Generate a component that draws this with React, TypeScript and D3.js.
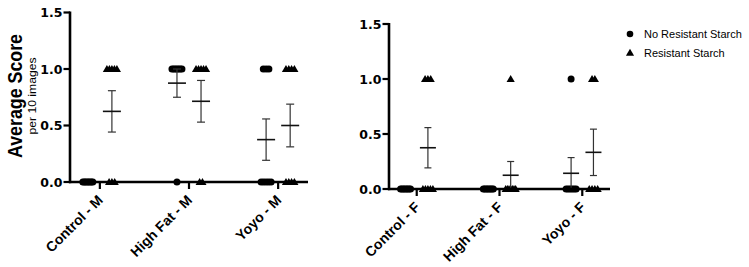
import React from "react";
import * as d3 from "d3";

const maleCategories = ["Control - M", "High Fat - M", "Yoyo - M"];
const femaleCategories = ["Control - F", "High Fat - F", "Yoyo - F"];
const maleNoRS = [
  [0, 0, 0, 0, 0, 0, 0, 0],
  [1, 1, 1, 1, 1, 1, 1, 0],
  [1, 1, 1, 0, 0, 0, 0, 0],
];
const maleRS = [
  [1, 1, 1, 1, 1, 0, 0, 0],
  [1, 1, 1, 1, 1, 0, 0],
  [1, 1, 1, 1, 0, 0, 0, 0],
];
const femaleNoRS = [
  [0, 0, 0, 0, 0, 0, 0, 0],
  [0, 0, 0, 0, 0, 0, 0, 0],
  [1, 0, 0, 0, 0, 0, 0],
];
const femaleRS = [
  [1, 1, 1, 0, 0, 0, 0, 0],
  [1, 0, 0, 0, 0, 0, 0, 0],
  [1, 1, 0, 0, 0, 0],
];
const yTicks = [0, 0.5, 1.0, 1.5];
const legendLabels = ["No Resistant Starch", "Resistant Starch"];
const yTitle = "Average Score";
const ySubTitle = "per 10 images";

const TICK_FONT = "'DejaVu Sans', sans-serif";
const SANS = "'Liberation Sans', Arial, sans-serif";

const triPath = d3.symbol(d3.symbolTriangle, 29)() as string;

function Panel({ cats, noRS, rs, xRange, yRange, showTitle, meanW, capW }: any) {
  const x = d3.scalePoint<string>().domain(cats).range(xRange).padding(0.335);
  const y = d3.scaleLinear().domain([0, 1.5]).range(yRange);
  const off = x.step() * 0.135;
  const y0 = y(0);
  const x0 = xRange[0];
  const series = [
    { vals: noRS, shape: "circle", dir: -1 },
    { vals: rs, shape: "triangle", dir: 1 },
  ];
  return (
    <g>
      {series.map((s, si) =>
        cats.map((c: string, ci: number) => {
          const v: number[] = s.vals[ci];
          const cx = (x(c) as number) + s.dir * off;
          const groups = Array.from(d3.group(v, (d) => d).entries());
          const pts: any[] = [];
          groups.forEach(([val, arr]) => {
            const k = arr.length;
            const sp = k > 1 ? Math.min(2.8, 10 / (k - 1)) : 0;
            arr.forEach((_, j) => {
              pts.push({ px: cx + (j - (k - 1) / 2) * sp, py: y(val) });
            });
          });
          const m = d3.mean(v) as number;
          const sem = (d3.deviation(v) || 0) / Math.sqrt(v.length);
          return (
            <g key={`${si}-${ci}`}>
              {pts.map((p, pi) =>
                s.shape === "circle" ? (
                  <circle key={pi} cx={p.px} cy={p.py} r={3.5} fill="#000" />
                ) : (
                  <path key={pi} d={triPath} transform={`translate(${p.px},${p.py + 0.6})`} fill="#000" />
                )
              )}
              {sem > 0 && (
                <g stroke="#333" strokeWidth={1.2}>
                  <line x1={cx} x2={cx} y1={y(Math.max(0, m - sem))} y2={y(m + sem)} />
                  <line x1={cx - capW / 2} x2={cx + capW / 2} y1={y(m + sem)} y2={y(m + sem)} />
                  <line x1={cx - capW / 2} x2={cx + capW / 2} y1={y(Math.max(0, m - sem))} y2={y(Math.max(0, m - sem))} />
                </g>
              )}
              <line x1={cx - meanW / 2} x2={cx + meanW / 2} y1={y(m)} y2={y(m)} stroke="#111" strokeWidth={1.6} />
            </g>
          );
        })
      )}
      {/* axes */}
      <line x1={x0} x2={x0} y1={y(1.5) - 1} y2={y0 + 1.2} stroke="#000" strokeWidth={2.6} />
      <line x1={x0 - 1} x2={xRange[1]} y1={y0} y2={y0} stroke="#000" strokeWidth={2.6} />
      {yTicks.map((t) => (
        <g key={t}>
          <line x1={x0 - 6.5} x2={x0} y1={y(t)} y2={y(t)} stroke="#000" strokeWidth={2.2} />
          <text x={x0 - 7.5} y={y(t)} dy="0.36em" textAnchor="end" fontFamily={TICK_FONT} fontWeight="bold" fontSize={12.5} fill="#000">
            {d3.format(".1f")(t)}
          </text>
        </g>
      ))}
      {cats.map((c: string) => (
        <g key={c}>
          <line x1={x(c)} x2={x(c)} y1={y0} y2={y0 + 7} stroke="#000" strokeWidth={2.2} />
          <text
            transform={`translate(${(x(c) as number) + 4},${y0 + 19}) rotate(-45)`}
            textAnchor="end"
            fontFamily={SANS}
            fontWeight="bold"
            fontSize={14}
            fill="#000"
          >
            {c}
          </text>
        </g>
      ))}
      {showTitle && (
        <g>
          <text
            transform={`translate(22,96) rotate(-90)`}
            textAnchor="middle"
            fontFamily={SANS}
            fontWeight="bold"
            fontSize={20}
            textLength={124}
            lengthAdjust="spacingAndGlyphs"
            fill="#000"
          >
            {yTitle}
          </text>
          <text
            transform={`translate(36,96) rotate(-90)`}
            textAnchor="middle"
            fontFamily={SANS}
            fontSize={11.5}
            textLength={77}
            lengthAdjust="spacingAndGlyphs"
            fill="#000"
          >
            {ySubTitle}
          </text>
        </g>
      )}
    </g>
  );
}

export default function App() {
  return (
    <svg width={749} height={267} style={{ position: "absolute", left: 0, top: 0, background: "#fff" }}>
      <rect width={749} height={267} fill="#fff" />
      <Panel cats={maleCategories} noRS={maleNoRS} rs={maleRS} xRange={[70, 308]} yRange={[182, 12.5]} showTitle={true} meanW={18} capW={8} />
      <Panel cats={femaleCategories} noRS={femaleNoRS} rs={femaleRS} xRange={[389, 610]} yRange={[189, 24]} showTitle={false} meanW={16} capW={7} />
      <g>
        <circle cx={630} cy={34} r={3.3} fill="#000" />
        <text x={644} y={37.8} fontFamily={SANS} fontSize={11} fill="#000">{legendLabels[0]}</text>
        <path d={triPath} transform="translate(630,53.5)" fill="#000" />
        <text x={644} y={57} fontFamily={SANS} fontSize={11} fill="#000">{legendLabels[1]}</text>
      </g>
    </svg>
  );
}
